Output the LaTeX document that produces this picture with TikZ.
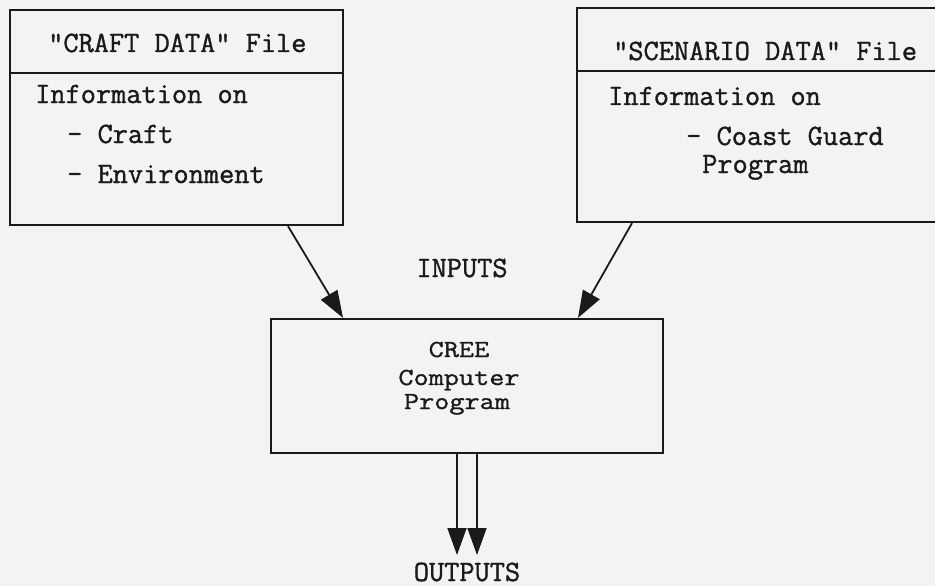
\documentclass[tikz,border=0pt]{standalone}
\usepackage{fontspec}
\newfontfamily\tw[FakeBold=1.2]{Latin Modern Mono}
\newfontfamily\twc[FakeBold=1.2,FakeStretch=1.2]{Latin Modern Mono}
\usetikzlibrary{arrows.meta}
\definecolor{inkc}{HTML}{1A1A1A}
\definecolor{bgc}{HTML}{F3F3F3}
\begin{document}
\begin{tikzpicture}[x=1pt,y=-1pt,
  boxline/.style={draw=inkc, line width=2.2pt, rectangle, inner sep=0pt},
  txt/.style={inner sep=0pt, anchor=base west, text depth=0pt, font=\tw\fontsize{29.5}{29.5}\selectfont, text=inkc},
  ctxt/.style={inner sep=0pt, anchor=base, text depth=0pt, font=\tw\fontsize{29.5}{29.5}\selectfont, text=inkc},
  btxt/.style={inner sep=0pt, anchor=base, text depth=0pt, font=\twc\fontsize{24.5}{24.5}\selectfont, text=inkc},
  arr/.style={draw=inkc, line width=1.8pt, -{Triangle[length=27pt,width=19pt]}}]
\fill[bgc] (0,0) rectangle (935,586);
\useasboundingbox (0,0) rectangle (935,586);
% boxes
\node[boxline, minimum width=333pt, minimum height=215pt] (lb) at (176.5,117.5) {};
\node[boxline, minimum width=383pt, minimum height=214pt] (rb) at (768.5,115) {};
\node[boxline, minimum width=392pt, minimum height=134pt] (cree) at (467,386) {};
% header dividers
\coordinate (ld) at (0,73);
\coordinate (rd) at (0,71);
\draw[draw=inkc, line width=2.2pt] (lb.west |- ld) -- (lb.east |- ld);
\draw[draw=inkc, line width=2.2pt] (rb.west |- rd) -- (rb.east |- rd);
% left box text
\node[txt] (lh) at (48,52) {"CRAFT DATA" File};
\node[txt] (l1) at (35,103) {Information on};
\node[txt] (l2) at (67,143) {- Craft};
\node[txt] (l3) at (67,183) {- Environment};
% right box text
\node[txt] (rh) at (613,60) {"SCENARIO DATA" File};
\node[txt] (r1) at (608,105) {Information on};
\node[txt] (r2) at (686,145) {- Coast Guard};
\node[txt] (r3) at (702,173) {Program};
% centre box text
\node[btxt] (c1) at (459,357) {CREE};
\node[btxt] (c2) at (459,385) {Computer};
\node[btxt] (c3) at (457,409) {Program};
% labels
\node[ctxt] (inp) at (462,277) {INPUTS};
\node[ctxt] (outp) at (467,581) {OUTPUTS};
% connectors
\coordinate (la) at (288,0);
\coordinate (lt) at (343,0);
\coordinate (ra) at (632,0);
\coordinate (rt) at (578,0);
\draw[arr] (lb.south -| la) -- (cree.north -| lt);
\draw[arr] (rb.south -| ra) -- (cree.north -| rt);
\coordinate (o1) at (457,555);
\coordinate (o2) at (477,555);
\draw[arr] (cree.south -| o1) -- (o1);
\draw[arr] (cree.south -| o2) -- (o2);
\end{tikzpicture}
\end{document}
